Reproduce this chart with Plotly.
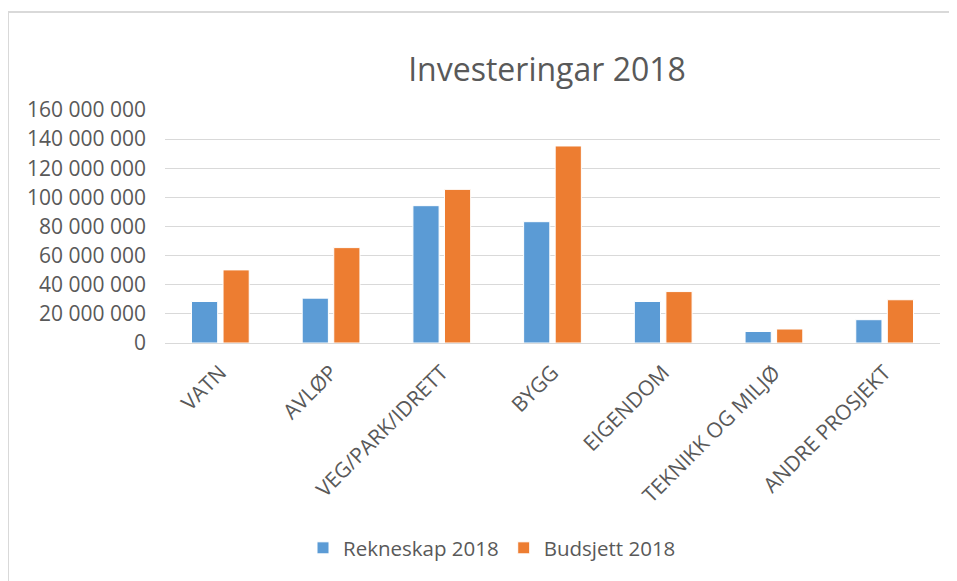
import plotly.graph_objects as go

categories = ["VATN", "AVLØP", "VEG/PARK/IDRETT", "BYGG", "EIGENDOM", "TEKNIKK OG MILJØ", "ANDRE PROSJEKT"]
rekneskap = [28500000, 30800000, 94300000, 83300000, 28500000, 7900000, 16000000]
budsjett = [50200000, 65500000, 105500000, 135300000, 35300000, 9600000, 29700000]
y_ticks = [0, 20000000, 40000000, 60000000, 80000000, 100000000, 120000000, 140000000, 160000000]

FONT = "Open Sans"
GREY = "#595959"

fig = go.Figure()
fig.add_trace(go.Bar(name="Rekneskap 2018", x=categories, y=rekneskap,
                     marker=dict(color="#5B9BD5", line=dict(color="white", width=1))))
fig.add_trace(go.Bar(name="Budsjett 2018", x=categories, y=budsjett,
                     marker=dict(color="#ED7D31", line=dict(color="white", width=1))))

# page body has an 8px margin, so figure coords = screen coords - 8
OFF = 8
W, H = 957 - OFF, 581 - OFF
L, R = 165 - OFF, 17
T = 110 - OFF
B = H - (343 - OFF)
pw, ph = W - L - R, H - T - B

def px(x):
    return (x - OFF - L) / pw

def py(y):
    return (H - B - (y - OFF)) / ph

fig.update_layout(
    width=W, height=H,
    margin=dict(l=L, r=R, t=T, b=B, pad=0),
    paper_bgcolor="white", plot_bgcolor="white",
    separators=", ",
    barmode="group", bargap=0.43, bargroupgap=0.17,
    font=dict(family=FONT, color=GREY, size=21),
    title=dict(text="Investeringar 2018", x=px(547), xref="paper", xanchor="center",
               y=1 - (70 - OFF) / H, yanchor="middle",
               font=dict(family=FONT, size=32, color=GREY)),
    showlegend=True,
    legend=dict(orientation="h", x=px(492), xanchor="center", y=py(548), yanchor="middle",
                font=dict(family=FONT, size=20.5, color=GREY), itemwidth=30,
                bgcolor="rgba(0,0,0,0)"),
    xaxis=dict(tickangle=-45, showgrid=False, showline=True, linecolor="#D9D9D9", linewidth=1,
               ticks="", ticklabelstandoff=8, tickfont=dict(family=FONT, size=21, color=GREY)),
    yaxis=dict(range=[0, 160000000], tickvals=y_ticks, tickformat=",d",
               showgrid=True, gridcolor="#D9D9D9", gridwidth=1,
               zeroline=True, zerolinecolor="#D9D9D9", zerolinewidth=1,
               showline=False, ticks="", ticklabelstandoff=18,
               tickfont=dict(family=FONT, size=21, color=GREY)),
    shapes=[
        dict(type="line", xref="paper", yref="paper", x0=px(7), x1=px(957), y0=py(12), y1=py(12),
             line=dict(color="#D9D9D9", width=2)),
        dict(type="line", xref="paper", yref="paper", x0=px(8), x1=px(8), y0=py(12), y1=py(581),
             line=dict(color="#D9D9D9", width=2)),
    ],
)

fig.write_html("out.html")
